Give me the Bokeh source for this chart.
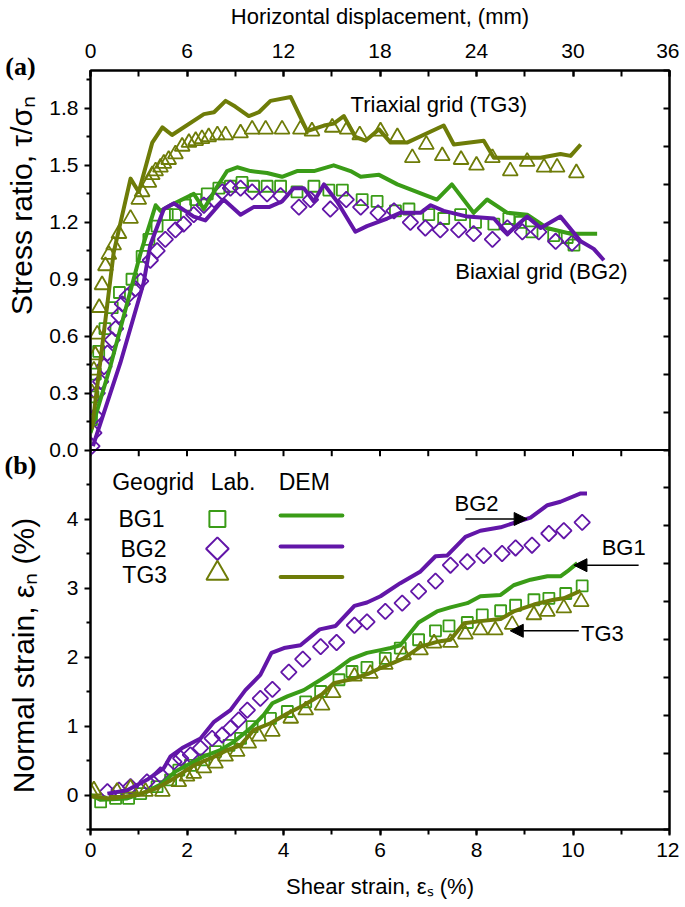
import numpy as np
from bokeh.plotting import figure
from bokeh.layouts import row
from bokeh.models import (LinearAxis, Range1d, SingleIntervalTicker, FixedTicker,
                          Arrow, NormalHead, Span, CustomJSTickFormatter)
from bokeh.core.properties import value
from bokeh.embed import file_html
from bokeh.resources import INLINE

# ---------------- Panel (a): stress ratio vs shear strain ----------------
a_bg1_lab_x = [0.02, 0.05, 0.10, 0.17, 0.30, 0.45, 0.60, 0.86, 1.07, 1.21, 1.38, 1.59, 1.76, 1.97, 2.18, 2.42,
               2.66, 2.90, 3.14, 3.38, 3.66, 3.94, 4.28, 4.63, 4.94, 5.22, 5.63, 5.94, 6.32, 6.60, 7.01, 7.32,
               7.67, 7.98, 8.36, 8.67, 8.91, 9.15, 9.60, 9.88, 10.02]
a_bg1_lab_y = [0.16, 0.28, 0.40, 0.52, 0.64, 0.75, 0.83, 0.90, 1.02, 1.11, 1.18, 1.24, 1.24, 1.29, 1.32, 1.35,
               1.38, 1.39, 1.41, 1.39, 1.39, 1.39, 1.36, 1.39, 1.37, 1.37, 1.32, 1.31, 1.26, 1.27, 1.24, 1.22,
               1.24, 1.20, 1.19, 1.22, 1.20, 1.15, 1.13, 1.12, 1.08]

a_bg2_lab_x = [0.03, 0.07, 0.10, 0.14, 0.21, 0.28, 0.35, 0.45, 0.52, 0.59, 0.66, 0.76, 0.93, 1.04, 1.24, 1.38,
               1.55, 1.76, 1.93, 2.14, 2.35, 2.56, 2.73, 2.90, 3.11, 3.35, 3.66, 3.94, 4.32, 4.56, 4.97, 5.30,
               5.60, 5.96, 6.29, 6.63, 6.94, 7.25, 7.63, 7.94, 8.33, 8.64, 8.95, 9.29, 9.64, 9.98]
a_bg2_lab_y = [0.02, 0.09, 0.18, 0.30, 0.36, 0.44, 0.51, 0.58, 0.64, 0.71, 0.77, 0.81, 0.85, 0.89, 1.00, 1.05,
               1.11, 1.16, 1.19, 1.24, 1.29, 1.32, 1.36, 1.38, 1.38, 1.36, 1.35, 1.34, 1.28, 1.32, 1.27, 1.32,
               1.28, 1.25, 1.26, 1.20, 1.17, 1.16, 1.16, 1.14, 1.11, 1.17, 1.15, 1.15, 1.10, 1.09]

a_tg3_lab_x = [0.03, 0.07, 0.10, 0.14, 0.18, 0.24, 0.31, 0.38, 0.48, 0.59, 0.83, 1.00, 1.07, 1.21, 1.28, 1.35,
               1.45, 1.52, 1.62, 1.76, 1.90, 2.04, 2.18, 2.31, 2.45, 2.63, 2.80, 3.11, 3.35, 3.63, 3.97, 4.35,
               4.59, 5.01, 5.32, 5.58, 6.01, 6.36, 6.67, 6.96, 7.29, 7.68, 8.00, 8.33, 8.70, 9.05, 9.40, 9.67,
               10.07]
a_tg3_lab_y = [0.30, 0.42, 0.50, 0.61, 0.75, 0.87, 0.97, 1.03, 1.08, 1.14, 1.22, 1.32, 1.36, 1.41, 1.45, 1.47,
               1.49, 1.51, 1.53, 1.56, 1.60, 1.62, 1.63, 1.64, 1.65, 1.66, 1.66, 1.67, 1.69, 1.69, 1.69, 1.69,
               1.68, 1.70, 1.69, 1.66, 1.68, 1.65, 1.54, 1.61, 1.55, 1.53, 1.50, 1.54, 1.47, 1.52, 1.49, 1.49,
               1.46]

a_bg1_dem_x = [0.0, 0.41, 1.04, 1.24, 1.35, 1.45, 1.66, 2.14, 2.35, 2.63, 2.83, 3.04, 3.32, 3.66, 3.97, 4.28,
               4.63, 5.04, 5.39, 5.60, 5.98, 6.36, 7.18, 7.49, 7.94, 8.22, 8.64, 9.05, 9.46, 9.95, 10.50]
a_bg1_dem_y = [0.09, 0.44, 1.04, 1.20, 1.29, 1.26, 1.29, 1.35, 1.27, 1.39, 1.47, 1.49, 1.47, 1.46, 1.44, 1.47,
               1.47, 1.50, 1.47, 1.44, 1.45, 1.40, 1.32, 1.40, 1.25, 1.32, 1.25, 1.24, 1.17, 1.14, 1.14]

a_bg2_dem_x = [0.05, 0.62, 1.10, 1.24, 1.52, 1.73, 2.14, 2.38, 2.76, 3.11, 3.38, 3.70, 3.97, 4.21, 4.42, 4.63,
               4.84, 5.11, 5.49, 5.73, 6.15, 6.42, 6.84, 7.05, 7.32, 7.81, 8.36, 8.64, 9.05, 9.33, 9.74, 10.16,
               10.43, 10.64]
a_bg2_dem_y = [0.02, 0.46, 0.88, 1.08, 1.27, 1.30, 1.23, 1.21, 1.32, 1.24, 1.28, 1.28, 1.31, 1.38, 1.38, 1.31,
               1.40, 1.31, 1.15, 1.18, 1.22, 1.25, 1.25, 1.29, 1.26, 1.23, 1.22, 1.14, 1.23, 1.17, 1.23, 1.10,
               1.06, 1.00]

a_tg3_dem_x = [0.03, 0.20, 0.48, 0.83, 1.00, 1.28, 1.49, 1.69, 2.35, 2.56, 2.80, 3.00, 3.28, 3.49, 3.73, 4.15,
               4.49, 4.84, 5.04, 5.25, 5.49, 5.70, 5.98, 6.22, 6.56, 7.32, 7.53, 8.15, 8.36, 8.70, 9.33, 9.74,
               9.95, 10.16]
a_tg3_dem_y = [0.11, 0.46, 1.04, 1.43, 1.36, 1.62, 1.70, 1.66, 1.77, 1.78, 1.84, 1.81, 1.76, 1.78, 1.84, 1.86,
               1.68, 1.71, 1.72, 1.76, 1.65, 1.63, 1.69, 1.62, 1.62, 1.71, 1.61, 1.63, 1.54, 1.54, 1.54, 1.56,
               1.55, 1.61]

# ---------------- Panel (b): normal strain vs shear strain ----------------
b_bg1_lab_x = [0.21, 0.52, 0.79, 1.04, 1.38, 1.66, 1.83, 2.07, 2.35, 2.59, 2.87, 3.11, 3.35, 3.73, 4.08, 4.46,
               4.77, 5.15, 5.42, 5.73, 6.11, 6.42, 6.80, 7.15, 7.43, 7.81, 8.12, 8.50, 8.81, 9.19, 9.50, 9.85,
               10.19]
b_bg1_lab_y = [-0.10, -0.05, -0.05, 0.02, 0.12, 0.22, 0.36, 0.43, 0.51, 0.63, 0.72, 0.82, 0.99, 1.11, 1.21, 1.35,
               1.50, 1.67, 1.79, 1.85, 1.98, 2.13, 2.25, 2.38, 2.45, 2.50, 2.61, 2.67, 2.75, 2.83, 2.85, 2.92,
               3.03]

b_bg2_lab_x = [0.35, 0.59, 0.83, 1.17, 1.45, 1.73, 1.87, 2.07, 2.28, 2.52, 2.73, 2.90, 3.07, 3.25, 3.52, 3.77,
               4.11, 4.40, 4.77, 5.10, 5.47, 5.73, 6.11, 6.46, 6.80, 7.15, 7.46, 7.81, 8.15, 8.53, 8.81, 9.15,
               9.50, 9.81, 10.19]
b_bg2_lab_y = [0.05, 0.07, 0.12, 0.19, 0.29, 0.48, 0.53, 0.58, 0.68, 0.82, 0.87, 0.97, 1.09, 1.23, 1.40, 1.53,
               1.78, 1.97, 2.15, 2.21, 2.46, 2.51, 2.66, 2.78, 2.95, 3.10, 3.33, 3.38, 3.47, 3.50, 3.58, 3.62,
               3.79, 3.83, 3.95]

b_tg3_lab_x = [0.00, 0.07, 0.55, 0.83, 1.14, 1.49, 1.83, 2.00, 2.14, 2.35, 2.59, 2.80, 3.04, 3.28, 3.49, 3.77,
               4.15, 4.46, 4.80, 5.03, 5.47, 5.80, 6.11, 6.49, 6.84, 7.12, 7.46, 7.77, 8.08, 8.39, 8.74, 9.19,
               9.47, 9.81, 10.17]
b_tg3_lab_y = [0.05, 0.07, 0.05, 0.10, 0.05, 0.05, 0.19, 0.27, 0.31, 0.39, 0.46, 0.56, 0.63, 0.75, 0.85, 0.92,
               1.11, 1.23, 1.30, 1.48, 1.72, 1.76, 1.89, 2.03, 2.10, 2.20, 2.21, 2.33, 2.39, 2.39, 2.47, 2.61,
               2.66, 2.71, 2.80]

b_bg1_dem_x = [0.0, 0.21, 0.76, 1.17, 1.45, 1.76, 2.00, 2.35, 2.69, 2.97, 3.32, 3.59, 3.77, 4.08, 4.42, 4.77,
               5.08, 5.39, 5.73, 6.01, 6.22, 6.42, 6.80, 7.18, 7.46, 7.81, 8.08, 8.50, 8.77, 9.12, 9.47, 9.74,
               9.88, 10.09]
b_bg1_dem_y = [0.0, -0.07, -0.05, 0.05, 0.15, 0.34, 0.43, 0.56, 0.65, 0.77, 0.97, 1.16, 1.33, 1.43, 1.52, 1.67,
               1.81, 1.97, 2.06, 2.10, 2.13, 2.17, 2.50, 2.66, 2.72, 2.78, 2.88, 2.90, 3.04, 3.12, 3.17, 3.17,
               3.24, 3.36]

b_bg2_dem_x = [0.35, 0.76, 1.17, 1.52, 1.66, 1.90, 2.28, 2.56, 2.90, 3.21, 3.52, 3.75, 4.01, 4.35, 4.75, 5.08,
               5.47, 5.73, 6.01, 6.42, 6.84, 7.15, 7.39, 7.77, 8.08, 8.50, 9.12, 9.47, 9.74, 10.16, 10.29]
b_bg2_dem_y = [0.02, 0.07, 0.22, 0.39, 0.56, 0.68, 0.82, 1.06, 1.23, 1.52, 1.74, 2.06, 2.13, 2.17, 2.40, 2.45,
               2.74, 2.79, 2.88, 3.07, 3.24, 3.46, 3.47, 3.74, 3.83, 3.88, 4.02, 4.20, 4.25, 4.37, 4.37]

b_tg3_dem_x = [0.0, 0.41, 0.97, 1.38, 1.73, 2.14, 2.49, 2.83, 3.11, 3.38, 3.73, 4.08, 4.42, 4.80, 5.04, 5.42,
               5.77, 6.01, 6.15, 6.49, 6.84, 7.18, 7.46, 7.74, 8.08, 8.50, 8.77, 9.19, 9.60, 9.81, 10.16]
b_tg3_dem_y = [-0.02, -0.05, 0.0, 0.10, 0.24, 0.43, 0.53, 0.65, 0.72, 0.94, 1.04, 1.18, 1.30, 1.46, 1.62, 1.68,
               1.76, 1.84, 1.88, 1.98, 2.15, 2.22, 2.25, 2.49, 2.52, 2.55, 2.66, 2.76, 2.83, 2.85, 2.96]

# tick values / labels
a_ticks = [0.0, 0.3, 0.6, 0.9, 1.2, 1.5, 1.8]
a_tick_labels = ["0.0", "0.3", "0.6", "0.9", "1.2", "1.5", "1.8"]
b_ticks = [0, 1, 2, 3, 4]
b_tick_labels = ["0", "1", "2", "3", "4"]
geogrids = ["BG1", "BG2", "TG3"]
legend_header = ["Geogrid", "Lab.", "DEM"]

GREEN = "#3a9c17"
PURPLE = "#6216a8"
OLIVE = "#6e7c08"
FONT = "Liberation Sans"

# ranges: one frame holds both panels; panel (b) in the lower half of the main
# y range, panel (a) mapped onto the upper half through an extra range
B_LO, B_HI = -0.5, 5.0
A_LO, A_HI = 0.0, 2.0
Y_MAIN = Range1d(B_LO, B_HI + (B_HI - B_LO))
A_RANGE = Range1d(A_LO - (A_HI - A_LO), A_HI)


def a_to_main(v):
    return B_HI + (v - A_LO) * (B_HI - B_LO) / (A_HI - A_LO)


p = figure(width=637, height=901, x_range=Range1d(0, 12), y_range=Y_MAIN,
           output_backend="svg", toolbar_location=None,
           x_axis_location=None, y_axis_location=None,
           min_border_left=48, min_border_right=10, min_border_top=68, min_border_bottom=70)
p.extra_y_ranges = {"a": A_RANGE}
p.extra_x_ranges = {"mm": Range1d(0, 36)}
p.grid.visible = False
p.outline_line_color = "black"
p.outline_line_width = 2
p.background_fill_color = "white"
p.border_fill_color = "white"


def style_axis(ax, tick_fs="21px", label_fs="22px"):
    ax.axis_line_width = 2
    ax.major_tick_line_width = 2
    ax.minor_tick_line_width = 2
    ax.major_label_text_font = FONT
    ax.major_label_text_font_size = tick_fs
    ax.major_label_text_color = "black"
    ax.axis_label_text_font = FONT
    ax.axis_label_text_font_style = "normal"
    ax.axis_label_text_font_size = label_fs
    ax.axis_label_text_color = "black"


# left axis: both panels' ticks
a_main = [a_to_main(v) for v in a_ticks]
a_minor = [a_to_main(v + 0.15) for v in a_ticks]
left_ticks = [float(t) for t in b_ticks] + a_main
left_minor = [-0.5, 0.5, 1.5, 2.5, 3.5, 4.5] + a_minor
overrides = {float(t): s for t, s in zip(b_ticks, b_tick_labels)}
overrides.update({t: s for t, s in zip(a_main, a_tick_labels)})
ly = LinearAxis(ticker=FixedTicker(ticks=left_ticks, minor_ticks=left_minor))
ly.major_label_overrides = overrides
style_axis(ly, "21px")
ly.major_tick_in = 0
ly.major_tick_out = 6
ly.minor_tick_in = 0
ly.minor_tick_out = 4
ly.major_label_standoff = 6
p.add_layout(ly, "left")

# top axis (horizontal displacement)
top = LinearAxis(x_range_name="mm", ticker=SingleIntervalTicker(interval=6, num_minor_ticks=2),
                 axis_label="Horizontal displacement, (mm)")
style_axis(top, "21px", "22px")
top.major_tick_in = 6
top.major_tick_out = 0
top.minor_tick_in = 6
top.minor_tick_out = 0
top.major_label_standoff = 13
top.axis_label_standoff = 12
p.add_layout(top, "above")

# bottom axis (shear strain)
bx = LinearAxis(ticker=SingleIntervalTicker(interval=2, num_minor_ticks=2),
                axis_label="Shear strain, εₛ (%)")
style_axis(bx, "21px", "22px")
bx.major_tick_in = 0
bx.major_tick_out = 6
bx.minor_tick_in = 0
bx.minor_tick_out = 5
bx.major_label_standoff = 7
bx.axis_label_standoff = 14
p.add_layout(bx, "below")

# right axis: unlabeled ticks pointing inwards
rx = LinearAxis(ticker=FixedTicker(ticks=[B_LO + 0.55 * i for i in range(21)]),
                formatter=CustomJSTickFormatter(code="return ''"))
rx.axis_line_width = 2
rx.major_tick_line_width = 2
rx.major_tick_in = 6
rx.major_tick_out = 0
rx.minor_tick_in = 0
rx.minor_tick_out = 0
rx.major_label_standoff = 0
p.add_layout(rx, "right")

# panel divider with its downward ticks
p.add_layout(Span(location=B_HI, dimension="width", line_color="black", line_width=2))
mid_ticks = list(range(0, 13))
p.segment(x0=mid_ticks, y0=[B_HI] * 13, x1=mid_ticks, y1=[B_HI - 0.09] * 13,
          line_color="black", line_width=2)

MK_W = 1.8
# ---- panel (a) ----
p.scatter(a_bg1_lab_x, a_bg1_lab_y, y_range_name="a", marker="square", size=11, fill_color=None,
          line_color=GREEN, line_width=MK_W)
p.scatter(a_bg2_lab_x, a_bg2_lab_y, y_range_name="a", marker="square", angle=np.pi / 4, size=11,
          fill_color=None, line_color=PURPLE, line_width=MK_W)
p.scatter(a_tg3_lab_x, a_tg3_lab_y, y_range_name="a", marker="triangle", size=15, fill_color=None,
          line_color=OLIVE, line_width=MK_W)
p.line(a_bg1_dem_x, a_bg1_dem_y, y_range_name="a", line_color=GREEN, line_width=4, line_join="round")
p.line(a_bg2_dem_x, a_bg2_dem_y, y_range_name="a", line_color=PURPLE, line_width=4, line_join="round")
p.line(a_tg3_dem_x, a_tg3_dem_y, y_range_name="a", line_color=OLIVE, line_width=4, line_join="round")
p.text(x=[5.39, 7.56], y=[1.82, 0.94], y_range_name="a", text=["Triaxial grid (TG3)", "Biaxial grid (BG2)"],
       text_font=value(FONT), text_font_size="22px", text_baseline="middle", text_align="left",
       text_color="black")

# ---- panel (b) ----
p.scatter(b_bg1_lab_x, b_bg1_lab_y, marker="square", size=11, fill_color=None, line_color=GREEN, line_width=MK_W)
p.scatter(b_bg2_lab_x, b_bg2_lab_y, marker="square", angle=np.pi / 4, size=11, fill_color=None,
          line_color=PURPLE, line_width=MK_W)
p.scatter(b_tg3_lab_x, b_tg3_lab_y, marker="triangle", size=15, fill_color=None, line_color=OLIVE, line_width=MK_W)
p.line(b_bg1_dem_x, b_bg1_dem_y, line_color=GREEN, line_width=4, line_join="round")
p.line(b_bg2_dem_x, b_bg2_dem_y, line_color=PURPLE, line_width=4, line_join="round")
p.line(b_tg3_dem_x, b_tg3_dem_y, line_color=OLIVE, line_width=4, line_join="round")

# legend table
p.text(x=[0.45, 2.49, 3.90], y=[4.54, 4.54, 4.54], text=legend_header,
       text_font=value(FONT), text_font_size="23px", text_baseline="middle", text_align="left")
p.text(x=[0.58, 0.62, 0.66], y=[4.00, 3.57, 3.19], text=geogrids,
       text_font=value(FONT), text_font_size="23px", text_baseline="middle", text_align="left")
p.scatter([2.63], [4.00], marker="square", size=16, fill_color=None, line_color=GREEN, line_width=2)
p.scatter([2.63], [3.57], marker="square", angle=np.pi / 4, size=16, fill_color=None, line_color=PURPLE,
          line_width=2)
p.scatter([2.63], [3.21], marker="triangle", size=22, fill_color=None, line_color=OLIVE, line_width=2)
p.line([3.94, 5.22], [4.05, 4.05], line_color=GREEN, line_width=4, line_cap="round")
p.line([3.94, 5.22], [3.60, 3.60], line_color=PURPLE, line_width=4, line_cap="round")
p.line([3.94, 5.22], [3.16, 3.16], line_color=OLIVE, line_width=4, line_cap="round")

# annotations with arrows
p.text(x=[8.0, 11.05, 10.61], y=[4.23, 3.58, 2.34], text=["BG2", "BG1", "TG3"],
       text_font=value(FONT), text_font_size="22px", text_baseline="middle", text_align="center")
for (xs, xe, yy) in [(7.77, 9.05, 4.0), (11.36, 10.02, 3.33), (10.12, 8.70, 2.38)]:
    p.add_layout(Arrow(x_start=xs, y_start=yy, x_end=xe, y_end=yy, line_width=1.5, line_color="black",
                       end=NormalHead(size=13, fill_color="black", line_color="black")))

# ---- side strip: panel tags and the two y-axis titles ----
SIDE_W, SIDE_H = 42, 901
side = figure(width=SIDE_W, height=SIDE_H, x_range=Range1d(0, SIDE_W), y_range=Range1d(0, SIDE_H),
              output_backend="svg", toolbar_location=None, x_axis_location=None, y_axis_location=None,
              min_border_left=0, min_border_right=0, min_border_top=0, min_border_bottom=0)
side.frame_align = False
side.grid.visible = False
side.outline_line_color = None
side.background_fill_color = "white"
side.border_fill_color = "white"
side.text(x=[20, 20], y=[SIDE_H - 66, SIDE_H - 465], text=["(a)", "(b)"],
          text_font=value("Liberation Serif"), text_font_style="bold", text_font_size="26px",
          text_align="center", text_baseline="middle")
side.text(x=[21, 23], y=[SIDE_H - 205, SIDE_H - 655], text=["Stress ratio, τ/σₙ", "Normal strain, εₙ (%)"],
          angle=np.pi / 2, text_font=value(FONT), text_font_size="30px",
          text_align="center", text_baseline="middle")

layout = row(side, p, spacing=0)
open("out.html", "w").write(file_html(layout, INLINE))
